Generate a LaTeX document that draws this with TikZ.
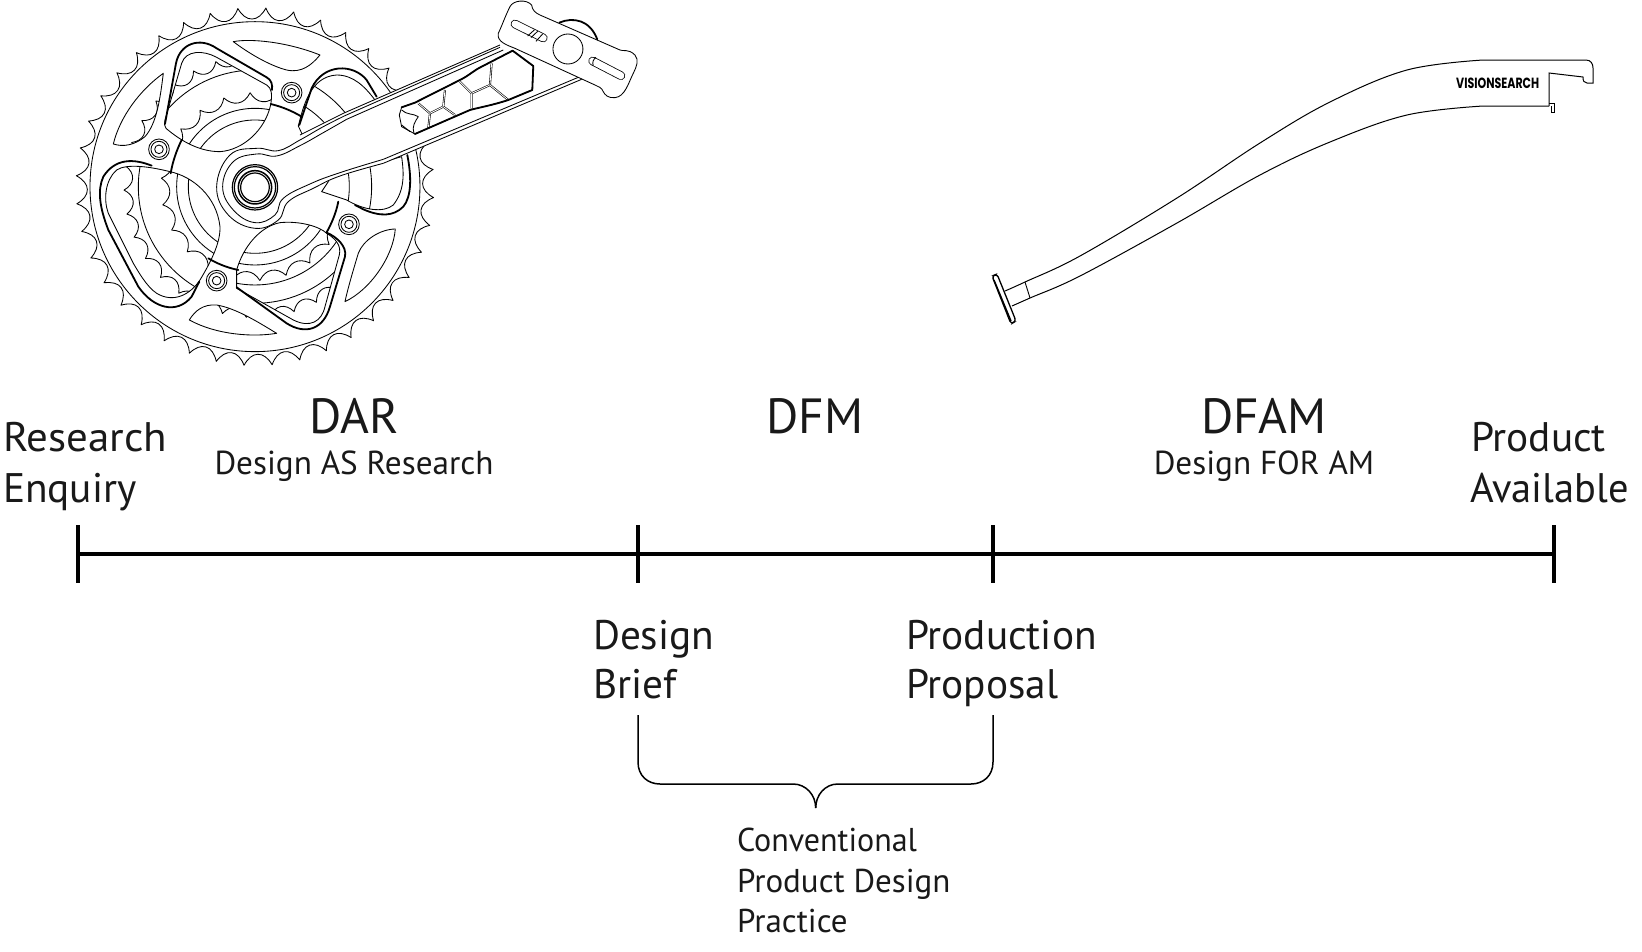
\documentclass[tikz,border=0pt]{standalone}
\usepackage{fontspec}
\usepackage{graphicx}
\setmainfont{PT Sans}
\newfontfamily\logofont{Poppins}
\tikzset{
  declare function={cx(\a,\r)=585+\r*cos(\a); cy(\a,\r)=560+\r*sin(\a);},
  thinl/.style={line width=0.85pt,line join=round},
  thickl/.style={line width=1.8pt,line join=round,line cap=round},
  hexl/.style={line width=0.6pt,double,double distance=0.8pt},
  axisl/.style={line width=4pt,black},
  bracel/.style={line width=1.5pt,line join=round},
  lab/.style={anchor=base west,inner sep=0pt,outer sep=0pt,text=black!90},
  big/.style={lab,font=\fontsize{41.3}{41.3}\selectfont},
  huge/.style={anchor=base,inner sep=0pt,outer sep=0pt,text=black!90,font=\fontsize{49.4}{49.4}\selectfont},
  sub/.style={anchor=base,inner sep=0pt,outer sep=0pt,text=black!90,font=\fontsize{33.2}{33.2}\selectfont},
  small/.style={lab,font=\fontsize{33}{33}\selectfont}
}
\newcommand\toothring[5]{%
  \pgfmathsetmacro\tst{360/#3}
  \pgfmathsetmacro\tmid{(#1)*0.62+(#2)*0.38}
  \draw[#5] ({cx(#4-0.5*\tst,#1)},{cy(#4-0.5*\tst,#1)})
  \foreach \i [evaluate=\i as \A using #4+(\i-1)*\tst] in {1,...,#3} {
    .. controls ({cx(\A-0.30*\tst,#1)},{cy(\A-0.30*\tst,#1)}) and ({cx(\A-0.12*\tst,\tmid)},{cy(\A-0.12*\tst,\tmid)}) .. ({cx(\A,#2)},{cy(\A,#2)})
    .. controls ({cx(\A+0.12*\tst,\tmid)},{cy(\A+0.12*\tst,\tmid)}) and ({cx(\A+0.30*\tst,#1)},{cy(\A+0.30*\tst,#1)}) .. ({cx(\A+0.5*\tst,#1)},{cy(\A+0.5*\tst,#1)})
  } -- cycle;
}
\newcommand\bigteeth{\toothring{368}{393}{34}{178.5}{thinl}}
\newcommand\ringset{%
  \draw[thinl] (585,560) circle[radius=200];
  \draw[thinl] (585,560) circle[radius=235];
  \draw[thinl] (585,560) circle[radius=350];
  \toothring{256}{282}{22}{-93}{thinl}
  \bigteeth
}
\newcommand\plainrings{%
  \draw[thinl] (585,560) circle[radius=283];
  \draw[thinl] (585,560) circle[radius=350];
}
\newcommand\bolt[2]{%
  \draw[thinl] (#1,#2) circle[radius=31];
  \draw[thinl] (#1,#2) circle[radius=24];
  \draw[thinl] (#1,#2) circle[radius=13];
}
\def\wone{(318,385) .. controls (312,378) and (313,370) .. (315,360) -- (365,190) .. controls (378,150) and (430,150) .. (470,172) -- (620,255) .. controls (636,264) and (637,285) .. (632,315) .. controls (615,390) and (550,450) .. (480,455) .. controls (420,455) and (365,425) .. (318,385) -- cycle}
\def\wtwo{(330,515) .. controls (400,530) and (470,590) .. (480,680) .. controls (482,730) and (450,790) .. (420,840) .. controls (390,885) and (340,910) .. (290,880) .. controls (260,860) and (235,815) .. (220,790) -- (145,640) .. controls (130,600) and (135,540) .. (170,510) .. controls (200,490) and (270,500) .. (330,515) -- cycle}
\def\wthree{(800,700) .. controls (780,680) and (720,662) .. (660,668) .. controls (600,680) and (550,740) .. (530,810) -- (530,865) -- (700,960) .. controls (750,985) and (785,965) .. (795,920) -- (838,765) .. controls (845,735) and (825,715) .. (800,700) -- cycle}
\def\wfour{(715,378) .. controls (730,320) and (750,230) .. (830,225) .. controls (880,225) and (915,260) .. (945,300) -- (730,410) -- cycle}
\def\wfive{(1025,470) .. controls (1032,520) and (1035,570) .. (1000,615) .. controls (970,640) and (910,630) .. (860,600) -- (785,575) -- (815,530) -- cycle}
\def\tone{(520,125) .. controls (570,115) and (680,125) .. (780,165) .. controls (755,195) and (725,220) .. (680,210) .. controls (640,200) and (580,170) .. (520,125) -- cycle}
\def\ttwo{(310,220) .. controls (240,270) and (180,350) .. (160,432) .. controls (190,442) and (225,435) .. (255,410) .. controls (290,370) and (300,300) .. (310,220) -- cycle}
\def\tthree{(388,960) .. controls (405,932) and (430,912) .. (470,915) .. controls (530,925) and (600,970) .. (650,1000) .. controls (580,1012) and (470,1005) .. (388,960) -- cycle}
\def\tfour{(1006,687) .. controls (960,688) and (910,720) .. (895,760) .. controls (880,810) and (865,860) .. (855,905) .. controls (930,870) and (1000,770) .. (1006,687) -- cycle}
\begin{document}
\begin{tikzpicture}[x=1pt,y=-1pt]
\useasboundingbox[fill=white] (0,0) rectangle (1642,951);

% ---------- crank ----------
\begin{scope}[shift={(60,0)},x=0.3333pt,y=-0.3333pt]
  \toothring{503}{537}{40}{-86.5}{thinl,fill=white}
  \draw[thinl] (585,560) circle[radius=495];

  \draw[thinl] \wone;
  \begin{scope}\clip \wone; \ringset \end{scope}
  \draw[thinl] \wtwo;
  \begin{scope}\clip \wtwo; \ringset \end{scope}
  \draw[thinl] \wthree;
  \begin{scope}\clip \wthree; \ringset \draw[thinl] (585,560) circle[radius=295]; \end{scope}
  \draw[thinl] \wfour;
  \begin{scope}\clip \wfour; \plainrings \end{scope}
  \draw[thinl] \wfive;
  \begin{scope}\clip \wfive; \plainrings \end{scope}

  \draw[thinl] \tone;
  \draw[thinl] \ttwo;
  \begin{scope}\clip \ttwo; \bigteeth \end{scope}
  \draw[thinl] \tthree;
  \begin{scope}\clip \tthree; \bigteeth \end{scope}
  \draw[thinl] \tfour;

  % thick window edges
  \draw[thickl] (315,372) -- (348,190) .. controls (360,130) and (420,110) .. (470,145) -- (620,232) .. controls (635,240) and (638,255) .. (636,270);
  \draw[thickl] (275,497) .. controls (220,475) and (165,475) .. (130,530) .. controls (112,570) and (118,620) .. (145,690) -- (235,860) .. controls (280,925) and (350,945) .. (395,890) -- (418,845);
  \draw[thickl] (530,862) -- (680,970) .. controls (735,1005) and (790,990) .. (810,920) -- (855,770) .. controls (862,740) and (830,710) .. (800,698);
  \draw[thickl] (718,375) -- (755,265) .. controls (790,190) and (880,190) .. (920,240) -- (950,290);
  \draw[thickl] (1042,465) .. controls (1055,530) and (1055,590) .. (1030,620) .. controls (1000,650) and (960,650) .. (910,628) -- (885,615);
  % spider joints
  \draw[thickl] (365,420) .. controls (350,450) and (338,485) .. (332,520);
  \draw[thickl] (632,312) .. controls (665,320) and (695,332) .. (725,350);
  \draw[thickl] (835,605) .. controls (828,640) and (815,670) .. (800,697);
  \draw[thickl] (445,775) .. controls (470,790) and (500,803) .. (535,810);

  \bolt{297}{448}\bolt{695}{278}\bolt{867}{673}\bolt{470}{842}

  % arm
  \fill[white] (1320,135) -- (850,340) -- (720,405) -- (655,452)
     -- plot[smooth,tension=.7] coordinates {(655,452)(590,445)(510,465)(470,560)(505,645)(585,685)(655,660)(685,605)(760,565)(840,528)}
     -- (970,490) -- (1560,240) -- cycle;
  \draw[thinl] (720,405) -- (850,340) -- (1320,135);
  \draw[thinl] plot[smooth,tension=.7] coordinates {(855,347)(790,380)(720,420)(655,452)(590,445)(510,465)(470,560)(505,645)(585,685)(655,660)(685,605)(760,565)(840,528)(970,490)};
  \draw[thinl] (855,347) -- (1320,142);
  \draw[thinl] (970,490) -- (1565,238);
  \draw[thinl] plot[smooth,tension=.7] coordinates {(860,358)(790,398)(720,437)(650,468)(590,462)(520,485)(488,560)(520,630)(585,668)(645,645)(670,595)(750,552)(840,518)(970,478)};
  \draw[thinl] (860,358) -- (1330,150);
  \draw[thinl] (970,478) -- (1555,232);
  % hub
  \draw[line width=1.2pt] (585,562) circle[radius=68];
  \draw[line width=1.2pt] (585,562) circle[radius=62];
  \draw[line width=1.5pt] (585,562) circle[radius=50];
  \draw[line width=1.2pt] (585,562) circle[radius=43];

  % pocket and pedal, in the frame of the second crop
  \begin{scope}[shift={(720,0)}]
    \draw[thinl,fill=white] (305,322) -- (345,308) -- (480,240) .. controls (510,225) and (520,212) .. (545,200) -- (638,152) -- (700,198) -- (697,270) -- (625,300) .. controls (580,315) and (540,322) .. (510,330) -- (345,402) -- (305,380) -- (298,345) -- cycle;
    \draw[hexl] (355,310) -- (390,340) -- (385,385);
    \draw[hexl] (390,340) -- (430,320) -- (435,270);
    \draw[hexl] (430,320) -- (465,345);
    \draw[hexl] (480,245) -- (515,280) -- (515,325);
    \draw[hexl] (515,280) -- (570,255) -- (575,190);
    \draw[hexl] (570,255) -- (625,300);
    \draw[thinl] (305,330) .. controls (320,345) and (340,340) .. (355,350) .. controls (345,365) and (335,380) .. (342,400);
    \draw[thinl] (305,375) -- (330,395);
    \draw[thickl] (305,322) -- (345,308) -- (480,240) .. controls (510,225) and (520,212) .. (545,200) -- (638,152) -- (700,198) -- (697,270) -- (625,300) .. controls (580,315) and (540,322) .. (510,330) -- (345,402);
    % pedal
    \draw[thickl] (778,68) .. controls (820,50) and (870,60) .. (892,118);
    \draw[thinl,fill=white] (595,100) .. controls (605,80) and (615,50) .. (630,20) .. controls (640,0) and (680,-3) .. (695,15) .. controls (697,30) and (705,38) .. (720,45) -- (960,150) .. controls (970,155) and (985,145) .. (1005,165) .. controls (1018,180) and (1010,200) .. (1000,220) .. controls (985,250) and (975,290) .. (945,293) .. controls (925,295) and (915,285) .. (910,275) .. controls (905,262) and (895,260) .. (885,255) -- (645,145) .. controls (620,135) and (590,125) .. (595,100) -- cycle;
    \draw[thinl] (804,147) circle[radius=45];
    \draw[line width=8.6pt,line cap=round] (645,72) -- (730,114);
    \draw[white,line width=7pt,line cap=round] (645,72) -- (730,114);
    \draw[line width=8.6pt,line cap=round] (878,183) -- (963,227);
    \draw[white,line width=7pt,line cap=round] (878,183) -- (963,227);
    \draw[thinl] (683,108) -- (703,90);
    \draw[thinl] (693,113) -- (713,94);
    \draw[thinl] (708,124) -- (728,102);
    \draw[thinl] (888,172) .. controls (880,178) and (876,188) .. (880,197);
  \end{scope}
\end{scope}

% ---------- spoon-shaped part ----------
\draw[line width=1pt] plot[smooth,tension=.6] coordinates {(1005,291)(1025,282)(1080,256)(1177,198)(1260,143)(1330,102)(1407,70)(1483,60)}
   -- (1586,60) .. controls (1591,60) and (1593,64) .. (1593,68) -- (1593,83) -- (1587,83) .. controls (1584,83) and (1583,81) .. (1583,77) -- (1549,73) -- (1549,106);
\draw[line width=1pt] plot[smooth,tension=.6] coordinates {(1012,306)(1030,298)(1080,276)(1177,223)(1260,175)(1330,142)(1407,115)(1483,106)} -- (1549,106);
\draw[line width=0.9pt] (1549,103) -- (1554,103) -- (1554,112) -- (1551,112) -- (1551,106);
\draw[line width=0.9pt] (1025,282) -- (1030,298);
\draw[line width=1.3pt,fill=white,rounded corners=3pt] (992,276) -- (997,274) -- (1016,321) -- (1011,324) -- cycle;
\draw[line width=1.4pt] (994,280) -- (1011,321);
\node[anchor=base west,inner sep=0pt,font=\logofont\bfseries] (logo) at (1456,88) {\resizebox{83pt}{10.5pt}{VISIONSEARCH}};

% ---------- labels ----------
\node[big] (n1) at (3,451) {\scalebox{1.04}[1]{Research}};
\node[big] (n2) at (3,502) {Enquiry};
\node[huge] (n3) at (354,433) {DAR};
\node[sub] (n4) at (354,474) {Design AS Research};
\node[huge] (n5) at (815,433) {DFM};
\node[huge] (n6) at (1264,433) {DFAM};
\node[sub] (n7) at (1264,474) {Design FOR AM};
\node[big] (n8) at (1471,451) {Product};
\node[big] (n9) at (1470,502) {\scalebox{.98}[1]{Available}};
\node[big] (n10) at (593,649) {Design};
\node[big] (n11) at (593,698) {Brief};
\node[big] (n12) at (906,649) {Production};
\node[big] (n13) at (906,698) {Proposal};
\node[small] (n14) at (737,851) {\scalebox{.97}[1]{Conventional}};
\node[small] (n15) at (737,892) {Product Design};
\node[small] (n16) at (737,932) {Practice};

% ---------- timeline ----------
\coordinate (a) at (77.5,554);
\coordinate (b) at (638,554);
\coordinate (c) at (993,554);
\coordinate (d) at (1554,554);
\draw[axisl] (a) -- (d);
\foreach \p in {a,b,c,d} \draw[axisl] ([yshift=29pt]\p) -- ([yshift=-29pt]\p);

% ---------- brace ----------
\coordinate (bl) at (638,715);
\coordinate (br) at (993,715);
\coordinate (bt) at (815.7,808);
\draw[bracel] (bl) -- (638,762) .. controls (638,776) and (648,784) .. (660,784) -- (793,784) .. controls (806,784) and (815.7,795) .. (bt);
\draw[bracel] (br) -- (993,762) .. controls (993,776) and (983,784) .. (971,784) -- (838,784) .. controls (825,784) and (815.7,795) .. (bt);
\end{tikzpicture}
\end{document}
